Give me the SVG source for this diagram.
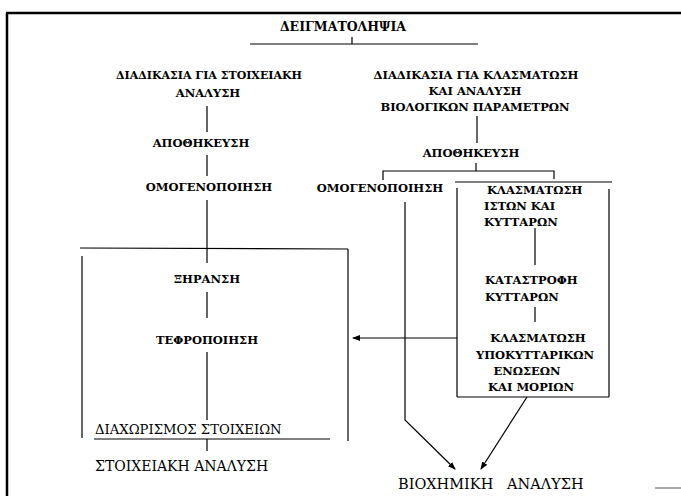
<svg xmlns="http://www.w3.org/2000/svg" width="681" height="496" viewBox="0 0 681 496">
<defs>
<marker id="ah" markerWidth="8" markerHeight="8" refX="7" refY="4" orient="auto" markerUnits="userSpaceOnUse">
<path d="M0,1 L8,4 L0,7 Z" fill="#000"/>
</marker>
<style>
text{font-family:"DejaVu Serif","Liberation Serif",serif;font-size:11.5px;font-weight:bold;fill:#000}
.m{text-anchor:middle}
.r{font-weight:normal}
line,polyline{stroke:#000;stroke-width:1.2;fill:none}
.frame{stroke-width:2.5}
</style>
</defs>
<rect width="681" height="496" fill="#fff"/>
<g id="frame">
<line class="frame" x1="6" y1="13" x2="681" y2="13"/>
<line class="frame" x1="7" y1="13" x2="7" y2="496"/>
<line x1="655" y1="488" x2="681" y2="488" style="stroke:#aaa;stroke-width:2"/>
</g>
<g id="connectors">
<line x1="250" y1="44" x2="478" y2="44"/>
<line x1="352" y1="37" x2="352" y2="44"/>
<line x1="207" y1="106" x2="207" y2="132"/>
<line x1="477" y1="116" x2="477" y2="143"/>
<line x1="207" y1="155" x2="207" y2="176"/>
<line x1="476" y1="163" x2="476" y2="171"/>
<polyline points="383,180 383,171 554,171 554,179"/>
<line x1="207" y1="200" x2="207" y2="263"/>
<line x1="80" y1="248" x2="348" y2="249"/>
<line x1="82" y1="256" x2="82" y2="438"/>
<line x1="348" y1="249" x2="348" y2="441"/>
<line x1="207" y1="292" x2="207" y2="318"/>
<line x1="207" y1="352" x2="207" y2="420"/>
<line x1="94" y1="439" x2="330" y2="439"/>
<line x1="207" y1="439" x2="207" y2="451"/>
<line x1="455" y1="182" x2="612" y2="182"/>
<line x1="457" y1="188" x2="457" y2="397"/>
<line x1="609" y1="189" x2="609" y2="397"/>
<line x1="457" y1="397" x2="609" y2="397"/>
<line x1="535" y1="228" x2="535" y2="265"/>
<line x1="535" y1="307" x2="535" y2="322"/>
<line x1="457" y1="338" x2="353" y2="338" marker-end="url(#ah)"/>
<polyline points="405,202 405,420 455,469" marker-end="url(#ah)"/>
<line x1="527" y1="397" x2="481" y2="469" marker-end="url(#ah)"/>
</g>
<g id="sampling"><text class="m" x="343" y="31" style="font-size:12.5px">ΔΕΙΓΜΑΤΟΛΗΨΙΑ</text></g>
<g id="elemental-procedure"><text class="m" x="209" y="79" style="font-size:11px">ΔΙΑΔΙΚΑΣΙΑ ΓΙΑ ΣΤΟΙΧΕΙΑΚΗ</text><text class="m" x="208" y="97">ΑΝΑΛΥΣΗ</text></g>
<g id="fraction-procedure"><text class="m" x="476" y="79">ΔΙΑΔΙΚΑΣΙΑ ΓΙΑ ΚΛΑΣΜΑΤΩΣΗ</text><text class="m" x="475" y="95">ΚΑΙ ΑΝΑΛΥΣΗ</text><text class="m" x="475" y="111">ΒΙΟΛΟΓΙΚΩΝ ΠΑΡΑΜΕΤΡΩΝ</text></g>
<g id="storage-left"><text class="m" x="201" y="147">ΑΠΟΘΗΚΕΥΣΗ</text></g>
<g id="storage-right"><text class="m" x="471" y="157">ΑΠΟΘΗΚΕΥΣΗ</text></g>
<g id="homog-left"><text class="m" x="209" y="191">ΟΜΟΓΕΝΟΠΟΙΗΣΗ</text></g>
<g id="homog-right"><text class="m" x="380" y="192">ΟΜΟΓΕΝΟΠΟΙΗΣΗ</text></g>
<g id="tissue-fraction"><text x="487" y="194">ΚΛΑΣΜΑΤΩΣΗ</text><text x="484" y="210">ΙΣΤΩΝ  ΚΑΙ</text><text x="484" y="226">ΚΥΤΤΑΡΩΝ</text></g>
<g id="cell-destruction"><text x="485" y="284">ΚΑΤΑΣΤΡΟΦΗ</text><text x="485" y="301">ΚΥΤΤΑΡΩΝ</text></g>
<g id="subcell-fraction"><text class="m" x="538" y="342">ΚΛΑΣΜΑΤΩΣΗ</text><text class="m" x="535" y="359">ΥΠΟΚΥΤΤΑΡΙΚΩΝ</text><text class="m" x="527" y="375">ΕΝΩΣΕΩΝ</text><text class="m" x="531" y="391">ΚΑΙ ΜΟΡΙΩΝ</text></g>
<g id="drying"><text class="m" x="207" y="283">ΞΗΡΑΝΣΗ</text></g>
<g id="ashing"><text class="m" x="207" y="344">ΤΕΦΡΟΠΟΙΗΣΗ</text></g>
<g id="separation"><text x="95" y="434" class="r" style="font-size:13.2px">ΔΙΑΧΩΡΙΣΜΟΣ ΣΤΟΙΧΕΙΩΝ</text></g>
<g id="elemental-analysis"><text x="95" y="471" class="r" style="font-size:14px">ΣΤΟΙΧΕΙΑΚΗ ΑΝΑΛΥΣΗ</text></g>
<g id="biochemical-analysis"><text x="398" y="489" class="r" style="font-size:14.5px;white-space:pre" xml:space="preserve">ΒΙΟΧΗΜΙΚΗ   ΑΝΑΛΥΣΗ</text></g>
</svg>
